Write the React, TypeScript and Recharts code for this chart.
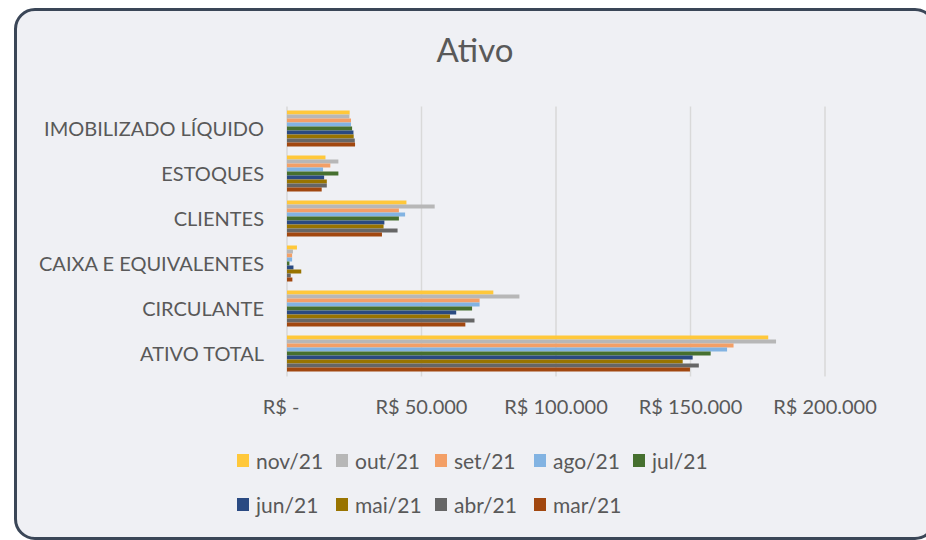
import { BarChart, Bar, XAxis, YAxis, CartesianGrid } from 'recharts';

const categories = [
  'IMOBILIZADO LÍQUIDO',
  'ESTOQUES',
  'CLIENTES',
  'CAIXA E EQUIVALENTES',
  'CIRCULANTE',
  'ATIVO TOTAL',
];

const months = ['nov/21', 'out/21', 'set/21', 'ago/21', 'jul/21', 'jun/21', 'mai/21', 'abr/21', 'mar/21'];

// valores por mês, na ordem das categorias
const nov21 = [23300, 14300, 44400, 3700, 76700, 178900];
const out21 = [23200, 19100, 54900, 2200, 86400, 181800];
const set21 = [23800, 16100, 41600, 1900, 71600, 166000];
const ago21 = [23800, 13400, 43900, 1900, 71600, 163600];
const jul21 = [24200, 19100, 41600, 900, 68800, 157500];
const jun21 = [24700, 13800, 36200, 2400, 62900, 150800];
const mai21 = [24800, 14800, 35900, 5300, 60600, 147100];
const abr21 = [25200, 14800, 41100, 1400, 69700, 153100];
const mar21 = [25300, 12900, 35300, 2000, 66300, 149800];

const seriesValues = [nov21, out21, set21, ago21, jul21, jun21, mai21, abr21, mar21];
const colors = ['#FFC83A', '#B7B7B7', '#F39F66', '#82B3E2', '#46702F', '#2A4A82', '#997400', '#666666', '#A1470F'];

const xTicks = [0, 50000, 100000, 150000, 200000];

const data = categories.map((name, i) => {
  const row: Record<string, string | number> = { name };
  months.forEach((m, j) => {
    row[m] = seriesValues[j][i];
  });
  return row;
});

const FONT = 'Lato, "Open Sans", sans-serif';
const TEXT = '#595959';

function fmt(v: number) {
  if (v === 0) return 'R$ -';
  return 'R$ ' + String(v).replace(/\B(?=(\d{3})+(?!\d))/g, '.');
}

function XTick(props: any) {
  const { x, y, payload } = props;
  const v = payload.value as number;
  return (
    <text x={x + (v === 0 ? -6 : 0)} y={y} dy="0.71em" textAnchor="middle" fill={TEXT} fontSize={20} fontFamily={FONT}>
      {fmt(v)}
    </text>
  );
}

function YTick(props: any) {
  const { x, y, payload } = props;
  return (
    <text x={x} y={y} dy="0.35em" textAnchor="end" fill={TEXT} fontSize={20} fontFamily={FONT}>
      {payload.value}
    </text>
  );
}

export default function App() {
  return (
    <div
      style={{
        position: 'fixed',
        left: 0,
        top: 0,
        width: 926,
        height: 540,
        overflow: 'hidden',
        background: '#FFFFFF',
      }}
    >
      <div
        style={{
          position: 'absolute',
          left: 14,
          top: 8,
          width: 922,
          height: 532,
          background: '#EFF0F4',
          border: '3px solid #3A4657',
          borderRadius: 21,
          boxSizing: 'border-box',
        }}
      />
      <div
        style={{
          position: 'absolute',
          left: 8,
          width: 934,
          top: 29,
          textAlign: 'center',
          fontFamily: FONT,
          fontSize: 33,
          color: TEXT,
        }}
      >
        Ativo
      </div>
      <div style={{ position: 'absolute', left: 8, top: 8 }}>
        <BarChart
          width={918}
          height={532}
          data={data}
          layout="vertical"
          margin={{ top: 98.5, right: 101, bottom: 123.5, left: 0 }}
          barCategoryGap={4}
          barGap={0}
        >
          <CartesianGrid horizontal={false} stroke="#D9D9D9" strokeWidth={1.5} />
          <XAxis
            type="number"
            domain={[0, 200000]}
            ticks={xTicks}
            axisLine={false}
            tickLine={false}
            tickSize={0}
            tickMargin={23}
            height={40}
            tick={<XTick />}
            interval={0}
          />
          <YAxis
            type="category"
            dataKey="name"
            width={279}
            axisLine={false}
            tickLine={false}
            tickSize={0}
            tickMargin={23}
            tick={<YTick />}
            interval={0}
          />
          {months.map((m, i) => (
            <Bar key={m} dataKey={m} fill={colors[i]} isAnimationActive={false} />
          ))}
        </BarChart>
      </div>
      <div
        style={{
          position: 'absolute',
          left: 237,
          top: 438,
          width: 500,
          display: 'flex',
          flexWrap: 'wrap',
          fontFamily: FONT,
          fontSize: 21,
          color: TEXT,
        }}
      >
        {months.map((m, i) => (
          <div key={m} style={{ width: 99, height: 44, display: 'flex', alignItems: 'center' }}>
            <span style={{ display: 'inline-block', width: 12, height: 13, background: colors[i], marginRight: 7 }} />
            <span>{m}</span>
          </div>
        ))}
      </div>
    </div>
  );
}
